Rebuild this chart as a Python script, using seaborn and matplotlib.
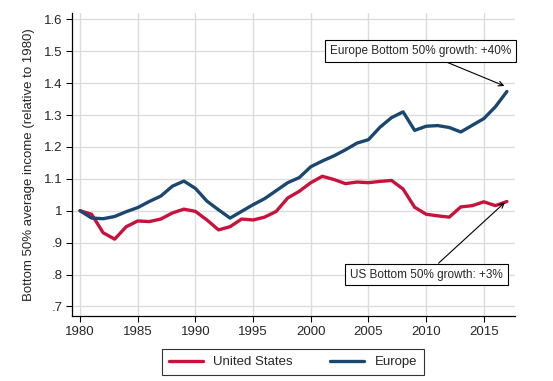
import numpy as np
import pandas as pd
import seaborn as sns
import matplotlib
matplotlib.use("Agg")
import matplotlib.pyplot as plt
from matplotlib.ticker import FixedLocator, FuncFormatter
from matplotlib.lines import Line2D

sns.set_theme(style="whitegrid")
plt.rcParams['font.family'] = ['Liberation Sans', 'DejaVu Sans']

years = list(range(1980, 2018))

us = [1.000, 0.989, 0.931, 0.911, 0.950, 0.968, 0.966, 0.974, 0.993, 1.005,
      0.998, 0.971, 0.940, 0.950, 0.974, 0.971, 0.980, 0.998, 1.040, 1.061,
      1.088, 1.108, 1.098, 1.085, 1.090, 1.088, 1.092, 1.095, 1.068, 1.011,
      0.989, 0.984, 0.980, 1.012, 1.016, 1.028, 1.016, 1.029]

europe = [1.000, 0.977, 0.975, 0.982, 0.997, 1.010, 1.029, 1.046, 1.077, 1.093,
          1.070, 1.030, 1.003, 0.977, 0.998, 1.019, 1.038, 1.063, 1.088, 1.104,
          1.138, 1.156, 1.172, 1.191, 1.212, 1.223, 1.262, 1.292, 1.310, 1.252,
          1.265, 1.267, 1.261, 1.247, 1.268, 1.289, 1.326, 1.374]

y_ticks = [0.7, 0.8, 0.9, 1.0, 1.1, 1.2, 1.3, 1.4, 1.5, 1.6]
x_ticks = list(range(1980, 2020, 5))

df = pd.DataFrame({
    "year": years * 2,
    "value": us + europe,
    "region": ["United States"] * len(years) + ["Europe"] * len(years),
})

palette = {"United States": "#c8123c", "Europe": "#1a476f"}

fig = plt.figure(figsize=(5.53, 3.81), dpi=100)
ax = fig.add_axes([72 / 553, 1 - 316 / 381, (515 - 72) / 553, (316 - 13) / 381])

sns.lineplot(data=df, x="year", y="value", hue="region", palette=palette,
             linewidth=2.4, ax=ax, legend=False)

ax.set_xlim(1979.3, 2017.7)
ax.set_ylim(0.67, 1.62)
ax.yaxis.set_major_locator(FixedLocator(y_ticks))
ax.xaxis.set_major_locator(FixedLocator(x_ticks))

def stata_fmt(v, pos):
    s = "{:.1f}".format(v)
    if s.endswith(".0"):
        s = s[:-2]
    if s.startswith("0."):
        s = s[1:]
    return s

ax.yaxis.set_major_formatter(FuncFormatter(stata_fmt))
ax.set_xlabel("")
ax.set_ylabel("Bottom 50% average income (relative to 1980)", fontsize=9.5, labelpad=6)
ax.tick_params(axis="both", labelsize=9.5, length=4, width=0.8, color="black",
               direction="out", pad=3, left=True, bottom=True)
ax.grid(True, color="#dcdcdc", linewidth=1.0)
ax.set_facecolor("white")
for side in ["top", "right"]:
    ax.spines[side].set_visible(False)
for side in ["left", "bottom"]:
    ax.spines[side].set_visible(True)
    ax.spines[side].set_color("black")
    ax.spines[side].set_linewidth(0.9)

# annotation boxes with arrows to the 2017 values
box = dict(boxstyle="square,pad=0.42", fc="white", ec="black", lw=0.8)
arrow = dict(arrowstyle="->", color="black", lw=0.8, shrinkA=0, shrinkB=2)
ax.annotate("Europe Bottom 50% growth: +40%", xy=(2017, europe[-1] + 0.014),
            xytext=(2009.5, 1.50), ha="center", va="center", fontsize=8.5,
            bbox=box, arrowprops=arrow)
ax.annotate("US Bottom 50% growth: +3%", xy=(2017, us[-1] + 0.003),
            xytext=(2010.0, 0.80), ha="center", va="center", fontsize=8.5,
            bbox=box, arrowprops=arrow)

handles = [Line2D([0], [0], color=palette["United States"], lw=2.4),
           Line2D([0], [0], color=palette["Europe"], lw=2.4)]
leg = fig.legend(handles, ["United States", "Europe"], loc="center",
                 bbox_to_anchor=(293 / 553, 1 - 362 / 381), ncol=2,
                 fontsize=9.5, frameon=True, fancybox=False, handlelength=2.6,
                 columnspacing=2.8, borderpad=0.5)
leg.get_frame().set_edgecolor("black")
leg.get_frame().set_linewidth(0.8)

fig.savefig("out.png", dpi=100, facecolor="white")
